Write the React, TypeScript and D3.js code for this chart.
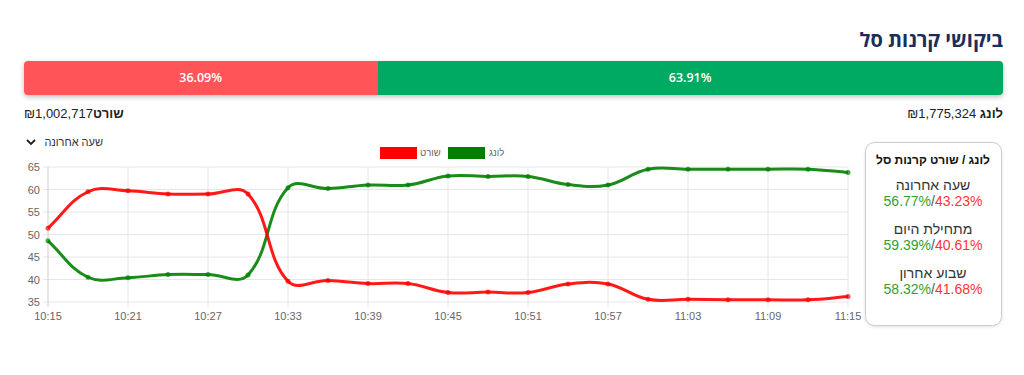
import React from "react";
import * as d3 from "d3";

const times = [
  "10:15", "10:18", "10:21", "10:24", "10:27", "10:30", "10:33", "10:36", "10:39", "10:42", "10:45",
  "10:48", "10:51", "10:54", "10:57", "11:00", "11:03", "11:06", "11:09", "11:12", "11:15",
];
const longValues = [48.6, 40.5, 40.4, 41.1, 41.1, 41.0, 60.4, 60.2, 61.0, 61.0, 63.0, 62.9, 62.9, 61.1, 61.0, 64.5, 64.5, 64.5, 64.5, 64.5, 63.8];
const shortValues = [51.4, 59.5, 59.7, 59.0, 59.0, 59.0, 39.6, 39.8, 39.1, 39.1, 37.1, 37.2, 37.1, 39.0, 39.0, 35.6, 35.6, 35.5, 35.5, 35.5, 36.2];
const yTicks = [35, 40, 45, 50, 55, 60, 65];

const barShares = [
  { label: "36.09%", value: 36.09, color: "#ff5459" },
  { label: "63.91%", value: 63.91, color: "#00aa63" },
];

const summaryRows = [
  { title: "שעה אחרונה", long: "56.77%", short: "43.23%" },
  { title: "מתחילת היום", long: "59.39%", short: "40.61%" },
  { title: "שבוע אחרון", long: "58.32%", short: "41.68%" },
];

const FONT = "'Liberation Sans', Arial, sans-serif";

// chart.js style spline (tension 0.4)
function splinePath(pts: [number, number][], t = 0.4) {
  const cps = pts.map((cur, i) => {
    const prev = pts[i - 1] || cur;
    const next = pts[i + 1] || cur;
    const d01 = Math.hypot(cur[0] - prev[0], cur[1] - prev[1]);
    const d12 = Math.hypot(next[0] - cur[0], next[1] - cur[1]);
    let s01 = d01 / (d01 + d12);
    let s12 = d12 / (d01 + d12);
    if (isNaN(s01)) s01 = 0;
    if (isNaN(s12)) s12 = 0;
    const fa = t * s01;
    const fb = t * s12;
    return {
      prev: [cur[0] - fa * (next[0] - prev[0]), cur[1] - fa * (next[1] - prev[1])],
      next: [cur[0] + fb * (next[0] - prev[0]), cur[1] + fb * (next[1] - prev[1])],
    };
  });
  const p = d3.path();
  p.moveTo(pts[0][0], pts[0][1]);
  for (let i = 1; i < pts.length; i++) {
    const a = cps[i - 1].next;
    const b = cps[i].prev;
    p.bezierCurveTo(a[0], a[1], b[0], b[1], pts[i][0], pts[i][1]);
  }
  return p.toString();
}

export default function App() {
  const x = d3.scalePoint().domain(times).range([48, 848]);
  const y = d3.scaleLinear().domain([35, 65]).range([302, 167]);

  const barX = d3
    .scaleLinear()
    .domain([0, 100])
    .range([24, 1003]);

  const series = [
    { name: "long", values: longValues, color: "#008000" },
    { name: "short", values: shortValues, color: "#ff0000" },
  ];

  let acc = 0;
  const barSegs = barShares.map((s) => {
    const x0 = barX(acc);
    acc += s.value;
    return { ...s, x0, x1: barX(acc) };
  });

  const shownTimes = times.filter((_, i) => i % 2 === 0);

  return (
    <svg
      width={1024}
      height={375}
      style={{ position: "absolute", left: 0, top: 0, fontFamily: FONT }}
    >
      <defs>
        <filter id="shadow" x="-5%" y="-50%" width="110%" height="220%">
          <feDropShadow dx="0" dy="2" stdDeviation="2.5" floodColor="#000" floodOpacity="0.25" />
        </filter>
        <filter id="boxShadow" x="-10%" y="-10%" width="120%" height="120%">
          <feDropShadow dx="0" dy="1" stdDeviation="1.5" floodColor="#000" floodOpacity="0.12" />
        </filter>
        <clipPath id="barClip">
          <rect x={24} y={61} width={979} height={34} rx={4} />
        </clipPath>
      </defs>
      <rect width={1024} height={375} fill="#fff" />

      {/* title */}
      <text
        x={1003}
        y={47}
        direction="rtl"
        textAnchor="start"
        fontSize={20}
        fontWeight="bold"
        fill="#1b2d5c"
        fontFamily="'Open Sans', 'DejaVu Sans', sans-serif"
      >
        ביקושי קרנות סל
      </text>

      {/* share bar */}
      <g filter="url(#shadow)">
        <g clipPath="url(#barClip)">
          {barSegs.map((s) => (
            <rect key={s.label} x={s.x0} y={61} width={s.x1 - s.x0} height={34} fill={s.color} />
          ))}
        </g>
      </g>
      {barSegs.map((s) => (
        <text
          key={s.label + "t"}
          x={(s.x0 + s.x1) / 2}
          y={82}
          textAnchor="middle"
          fontSize={12.5}
          fontWeight={600}
          fontFamily="'Open Sans', sans-serif"
          fill="#fff"
        >
          {s.label}
        </text>
      ))}

      {/* totals */}
      <text x={1003} y={118} direction="rtl" textAnchor="start" fontSize={13} fill="#222">
        <tspan fontWeight="bold">לונג</tspan> ₪1,775,324
      </text>
      <text x={24} y={118} direction="rtl" textAnchor="end" fontSize={13} fill="#222">
        <tspan fontWeight="bold">שורט</tspan>₪1,002,717
      </text>

      {/* dropdown */}
      <path d="M27,140 L31,144 L35,140" fill="none" stroke="#222" strokeWidth={1.8} />
      <text x={103} y={146} direction="rtl" textAnchor="start" fontSize={11} fill="#333">
        שעה אחרונה
      </text>

      {/* legend */}
      <rect x={448} y={147} width={37} height={12} fill="#008000" />
      <text x={489} y={156} fontSize={9.5} fill="#666">
        לונג
      </text>
      <rect x={380} y={147} width={37} height={12} fill="#ff0000" />
      <text x={420} y={156} fontSize={9.5} fill="#666">
        שורט
      </text>

      {/* grid */}
      <g>
        {yTicks.map((t) => (
          <line key={t} x1={43} x2={848} y1={y(t)} y2={y(t)} stroke="#e6e6e6" />
        ))}
        {shownTimes.map((t) => (
          <line
            key={t}
            x1={x(t)}
            x2={x(t)}
            y1={167}
            y2={307}
            stroke={t === times[0] ? "#cfcfcf" : "#e6e6e6"}
          />
        ))}
        {yTicks.map((t) => (
          <text key={t} x={40} y={y(t) + 4} textAnchor="end" fontSize={11} fill="#666">
            {t}
          </text>
        ))}
        {shownTimes.map((t) => (
          <text key={t} x={x(t)} y={320} textAnchor="middle" fontSize={11} fill="#666">
            {t}
          </text>
        ))}
      </g>

      {/* lines */}
      {series.map((s) => {
        const pts = s.values.map((v, i) => [x(times[i]) as number, y(v)] as [number, number]);
        return (
          <g key={s.name}>
            <path d={splinePath(pts)} fill="none" stroke={s.color} strokeWidth={3} opacity={0.9} />
            {pts.map((p, i) => (
              <circle key={i} cx={p[0]} cy={p[1]} r={2.5} fill={s.color} opacity={0.7} />
            ))}
          </g>
        );
      })}

      {/* summary box */}
      <rect
        x={865.5}
        y={142.5}
        width={136}
        height={183}
        rx={9}
        fill="#fff"
        stroke="#cccccc"
        filter="url(#boxShadow)"
      />
      <text x={933} y={164} textAnchor="middle" direction="rtl" fontSize={12} fontWeight="bold" fill="#111">
        לונג / שורט קרנות סל
      </text>
      {summaryRows.map((r, i) => (
        <g key={r.title} transform={`translate(933, ${190 + i * 44})`}>
          <text textAnchor="middle" direction="rtl" fontSize={14} fill="#333">
            {r.title}
          </text>
          <text y={16} textAnchor="middle" direction="ltr" fontSize={14}>
            <tspan fill="#33a033">{r.long}</tspan>
            <tspan fill="#555">/</tspan>
            <tspan fill="#ff3333">{r.short}</tspan>
          </text>
        </g>
      ))}
    </svg>
  );
}
